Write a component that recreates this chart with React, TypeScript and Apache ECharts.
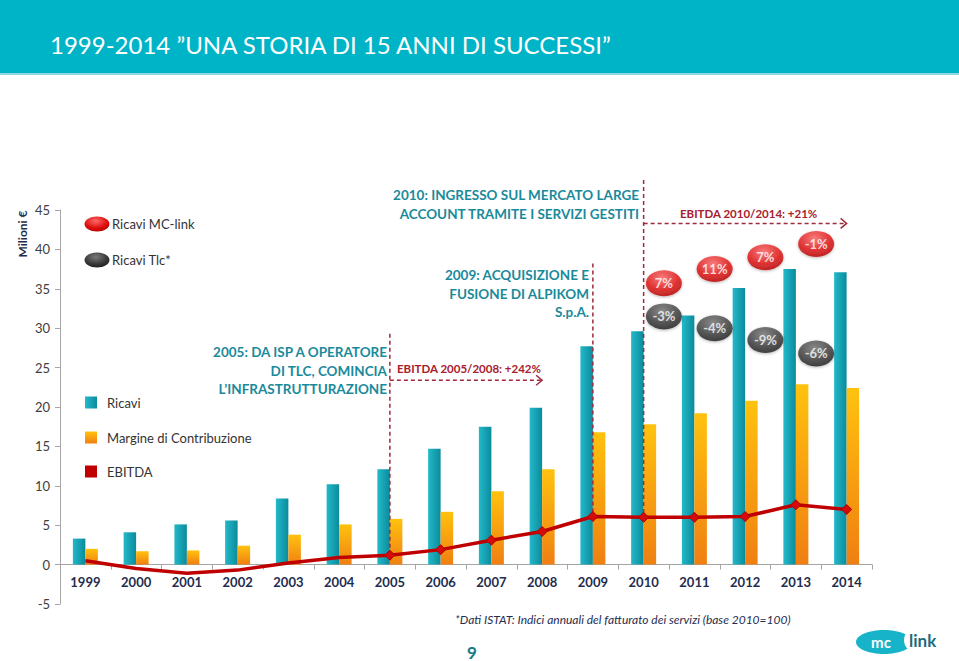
import React, { useEffect, useRef } from "react";
import * as echarts from "echarts";

const years = ["1999","2000","2001","2002","2003","2004","2005","2006","2007","2008","2009","2010","2011","2012","2013","2014"];
const ricavi = [3.3, 4.1, 5.1, 5.6, 8.4, 10.2, 12.1, 14.7, 17.5, 19.9, 27.7, 29.6, 31.6, 35.1, 37.5, 37.1];
const margine = [2.0, 1.7, 1.8, 2.4, 3.8, 5.1, 5.8, 6.7, 9.3, 12.1, 16.8, 17.8, 19.2, 20.8, 22.9, 22.4];
const ebitda = [0.5, -0.5, -1.1, -0.7, 0.2, 0.9, 1.2, 1.9, 3.1, 4.2, 6.1, 6.0, 6.0, 6.1, 7.6, 7.0];

const growthYears = ["2011", "2012", "2013", "2014"];
const mcGrowthLabels = ["7%", "11%", "7%", "-1%"];
const mcGrowthY = [35.7, 37.5, 39.0, 40.7];
const tlcGrowthLabels = ["-3%", "-4%", "-9%", "-6%"];
const tlcGrowthY = [31.5, 30.0, 28.5, 26.8];

const milestoneYears = ["2005", "2009", "2010"];
const milestoneTop = [29.3, 38.2, 48.8];

const ebitdaPeriods = [
  { from: "2005", to: "2008", y: 23.4 },
  { from: "2010", to: "2014", y: 43.3 },
];

const yTicks = { min: -5, max: 45, interval: 5 };

const FONT = "Lato, 'Open Sans', sans-serif";
const TEAL_TXT = "#1a8a9b";
const DARK_RED = "#a8202e";
const NAVY = "#1f2d4e";

const redGrad = {
  type: "radial", x: 0.45, y: 0.3, r: 0.75,
  colorStops: [{ offset: 0, color: "#ff6a6a" }, { offset: 0.6, color: "#e01010" }, { offset: 1, color: "#b00000" }],
};
const darkGrad = {
  type: "radial", x: 0.45, y: 0.3, r: 0.75,
  colorStops: [{ offset: 0, color: "#7a7a7a" }, { offset: 0.6, color: "#3a3a3a" }, { offset: 1, color: "#1a1a1a" }],
};

export default function App() {
  const ref = useRef<HTMLDivElement>(null);
  useEffect(() => {
    const chart = echarts.init(ref.current!, null, { renderer: "svg" });
    const bubble = (labels: string[], ys: number[], grad: any) =>
      labels.map((l, i) => ({ name: l, value: [years.indexOf(growthYears[i]) - 0.6, ys[i]], itemStyle: { color: grad } }));
    const option: any = {
      animation: false,
      backgroundColor: "#ffffff",
      textStyle: { fontFamily: FONT },
      grid: { left: 60, right: 87, top: 210, bottom: 57 },
      xAxis: [
        {
          type: "category",
          data: years,
          axisLine: { onZero: false, lineStyle: { color: "#a6a6a6", width: 1 } },
          axisTick: { show: true, length: 5, lineStyle: { color: "#a6a6a6" } },
          axisLabel: { color: NAVY, fontWeight: "bold", fontSize: 13, margin: 11, fontFamily: FONT },
        },
        { type: "value", min: -0.5, max: 15.5, show: false, axisLine: { onZero: false } },
      ],
      yAxis: {
        type: "value",
        min: yTicks.min, max: yTicks.max, interval: yTicks.interval,
        axisLine: { show: true, onZero: false, lineStyle: { color: "#a6a6a6" } },
        axisTick: { show: true, length: 5, lineStyle: { color: "#a6a6a6" } },
        splitLine: { show: false },
        axisLabel: { color: "#404040", fontSize: 13, margin: 10, fontFamily: FONT },
      },
      series: [
        {
          name: "Ricavi", type: "bar", data: ricavi, barWidth: 12.5, barGap: "0%",
          itemStyle: { color: { type: "linear", x: 0, y: 0, x2: 1, y2: 0, colorStops: [{ offset: 0, color: "#23b9ca" }, { offset: 1, color: "#0b8b9c" }] } },
        },
        {
          name: "Margine di Contribuzione", type: "bar", data: margine, barWidth: 12.5, barGap: "0%",
          itemStyle: { color: { type: "linear", x: 0, y: 0, x2: 0, y2: 1, colorStops: [{ offset: 0, color: "#ffc20e" }, { offset: 1, color: "#f07f12" }] } },
        },
        {
          name: "EBITDA", type: "line", z: 5,
          data: ebitda.map((v, i) => ({ value: v, symbol: i >= 6 ? "diamond" : "none" })),
          symbolSize: 10,
          lineStyle: { color: "#c00000", width: 3.5 },
          itemStyle: { color: "#d40b0b", borderColor: "#b00000", borderWidth: 1 },
        },
        {
          name: "Ricavi MC-link", type: "scatter", xAxisIndex: 1, z: 6,
          symbol: "circle", symbolSize: [36, 26],
          data: bubble(mcGrowthLabels, mcGrowthY, redGrad),
          itemStyle: { shadowBlur: 3, shadowColor: "rgba(0,0,0,0.35)", shadowOffsetY: 1 },
          label: { show: true, position: "inside", formatter: "{b}", color: "#fff", fontWeight: "bold", fontSize: 13, fontFamily: FONT },
        },
        {
          name: "Ricavi Tlc*", type: "scatter", xAxisIndex: 1, z: 6,
          symbol: "circle", symbolSize: [36, 26],
          data: bubble(tlcGrowthLabels, tlcGrowthY, darkGrad),
          itemStyle: { shadowBlur: 3, shadowColor: "rgba(0,0,0,0.35)", shadowOffsetY: 1 },
          label: { show: true, position: "inside", formatter: "{b}", color: "#fff", fontWeight: "bold", fontSize: 13, fontFamily: FONT },
        },
      ],
    };
    chart.setOption(option);

    const px = (cat: string, v: number) => chart.convertToPixel({ xAxisIndex: 0, yAxisIndex: 0 }, [years.indexOf(cat), v]) as number[];
    // move the category axis up to the zero line
    const yZero = px(years[0], 0)[1];
    const yBottom = px(years[0], yTicks.min)[1];
    chart.setOption({ xAxis: [{ offset: -(yBottom - yZero) }, {}] });

    const dash = { stroke: "#9e2a3c", lineWidth: 1.5, lineDash: [4, 3] };
    const g: any[] = [];
    // header
    g.push({ type: "rect", shape: { x: 0, y: 0, width: 959, height: 73 }, style: { fill: "#00b4c8" }, z: 1 });
    g.push({ type: "rect", shape: { x: 0, y: 73, width: 959, height: 2 }, style: { fill: "#8fd9e3" }, z: 1 });
    g.push({ type: "text", x: 50, y: 44, style: { text: "1999-2014 \u201DUNA STORIA DI 15 ANNI DI SUCCESSI\u201D", fill: "#ffffff", font: `24px 'Liberation Sans Narrow', ${FONT}`, textVerticalAlign: "middle" }, z: 2 });
    // axis name
    g.push({ type: "text", x: 22, y: 234, rotation: Math.PI / 2, style: { text: "Milioni \u20AC", fill: NAVY, font: `bold 12px ${FONT}`, textAlign: "center", textVerticalAlign: "middle" }, z: 2 });
    // legend ellipses
    g.push({ type: "ellipse", shape: { cx: 97, cy: 224, rx: 12.5, ry: 7.5 }, style: { fill: redGrad as any }, z: 3 });
    g.push({ type: "text", x: 112, y: 224, style: { text: "Ricavi MC-link", fill: "#333", font: `13px ${FONT}`, textVerticalAlign: "middle" }, z: 3 });
    g.push({ type: "ellipse", shape: { cx: 97, cy: 260, rx: 12.5, ry: 7.5 }, style: { fill: darkGrad as any }, z: 3 });
    g.push({ type: "text", x: 112, y: 260, style: { text: "Ricavi Tlc*", fill: "#333", font: `13px ${FONT}`, textVerticalAlign: "middle" }, z: 3 });
    // legend squares
    const sq = [
      { y: 403, t: "Ricavi", fill: { type: "linear", x: 0, y: 0, x2: 1, y2: 0, colorStops: [{ offset: 0, color: "#23b9ca" }, { offset: 1, color: "#0b8b9c" }] } },
      { y: 438, t: "Margine di Contribuzione", fill: { type: "linear", x: 0, y: 0, x2: 0, y2: 1, colorStops: [{ offset: 0, color: "#ffc20e" }, { offset: 1, color: "#f07f12" }] } },
      { y: 472, t: "EBITDA", fill: "#c00000" },
    ];
    sq.forEach((s) => {
      g.push({ type: "rect", shape: { x: 85, y: s.y - 6.5, width: 12, height: 12 }, style: { fill: s.fill as any }, z: 3 });
      g.push({ type: "text", x: 107, y: s.y, style: { text: s.t, fill: "#333", font: `13px ${FONT}`, textVerticalAlign: "middle" }, z: 3 });
    });
    // milestone dashed verticals
    milestoneYears.forEach((yr, i) => {
      const idx = years.indexOf(yr);
      const a = px(yr, milestoneTop[i]);
      const b = px(yr, ebitda[idx]);
      g.push({ type: "line", shape: { x1: a[0], y1: a[1], x2: b[0], y2: b[1] }, style: dash, z: 4 });
    });
    // EBITDA period arrows
    ebitdaPeriods.forEach((p) => {
      const a = px(p.from, p.y);
      const b = px(p.to, p.y);
      g.push({ type: "line", shape: { x1: a[0], y1: a[1], x2: b[0], y2: b[1] }, style: dash, z: 4 });
      g.push({ type: "polyline", shape: { points: [[b[0] - 6, b[1] - 5], [b[0], b[1]], [b[0] - 6, b[1] + 5]] }, style: { stroke: "#9e2a3c", lineWidth: 1.5, fill: "none" }, z: 4 });
    });
    // annotations
    const ann = (lines: string[], x: number, y0: number, lh: number) =>
      lines.forEach((l, i) => g.push({ type: "text", x, y: y0 + i * lh, style: { text: l, fill: TEAL_TXT, font: `bold 13.5px ${FONT}`, textAlign: "right", textVerticalAlign: "middle" }, z: 3 }));
    ann(["2005: DA ISP A OPERATORE", "DI TLC, COMINCIA", "L\u2019INFRASTRUTTURAZIONE"], 387, 352, 18.5);
    ann(["2010: INGRESSO SUL MERCATO LARGE", "ACCOUNT TRAMITE I SERVIZI GESTITI"], 639, 195, 18.5);
    ann(["2009: ACQUISIZIONE E", "FUSIONE DI ALPIKOM", "S.p.A."], 589, 275, 18.5);
    g.push({ type: "text", x: 397, y: 368, style: { text: "EBITDA 2005/2008: +242%", fill: DARK_RED, font: `bold 11.5px ${FONT}`, textVerticalAlign: "middle" }, z: 3 });
    g.push({ type: "text", x: 680, y: 213, style: { text: "EBITDA 2010/2014: +21%", fill: DARK_RED, font: `bold 11.5px ${FONT}`, textVerticalAlign: "middle" }, z: 3 });
    // footnote, page number, logo
    g.push({ type: "text", x: 455, y: 619, style: { text: "*Dati ISTAT: Indici annuali del fatturato dei servizi (base 2010=100)", fill: NAVY, font: `italic 12px ${FONT}`, textVerticalAlign: "middle" }, z: 3 });
    g.push({ type: "text", x: 472, y: 652, style: { text: "9", fill: "#177a88", font: `bold 17px ${FONT}`, textAlign: "center", textVerticalAlign: "middle" }, z: 3 });
    g.push({ type: "ellipse", shape: { cx: 884, cy: 642, rx: 28, ry: 12 }, style: { fill: "#17b3c9" }, z: 3 });
    g.push({ type: "ellipse", shape: { cx: 917, cy: 640, rx: 13, ry: 13 }, style: { fill: "#ffffff" }, z: 3 });
    g.push({ type: "text", x: 881, y: 642, style: { text: "mc", fill: "#ffffff", font: `bold 15px ${FONT}`, textAlign: "center", textVerticalAlign: "middle" }, z: 4 });
    g.push({ type: "text", x: 909, y: 640, style: { text: "link", fill: "#1c6b7c", font: `bold 17px ${FONT}`, textVerticalAlign: "middle" }, z: 4 });

    chart.setOption({ graphic: g });
    return () => chart.dispose();
  }, []);
  return <div ref={ref} style={{ position: "fixed", left: 0, top: 0, width: 959, height: 661, background: "#fff" }} />;
}
